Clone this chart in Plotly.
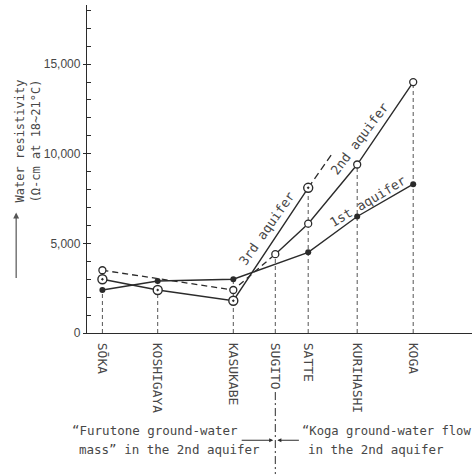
import plotly.graph_objects as go

# Stations along the route and their distance from the origin (km)
stations = ["SŌKA", "KOSHIGAYA", "KASUKABE", "SUGITO", "SATTE", "KURIHASHI", "KOGA"]
dist_km = [2.2, 10.1, 20.9, 26.9, 31.6, 38.6, 46.6]

# Water resistivity (ohm-cm at 18~21 °C) per aquifer; None = not measured
first_aquifer = [2400, 2900, 3000, None, 4500, 6500, 8300]
second_aquifer = [3500, None, 2400, 4400, 6100, 9400, 14000]
third_aquifer = [3000, 2400, 1800, None, 8100, None, None]

# Projected trend of the 3rd aquifer beyond SATTE
third_trend_km = [31.6, 35.0]
third_trend = [8100, 10000]

# Boundary between the Furutone ground-water mass and the Koga flow
boundary = "SUGITO"

y_ticks = [0, 5000, 10000, 15000]

INK = "#2b2b2b"
TXT = "#474747"
FONT = "DejaVu Sans Mono"

fig = go.Figure()


def pairs(xs, ys):
    pts = [(x, y) for x, y in zip(xs, ys) if y is not None]
    return [p[0] for p in pts], [p[1] for p in pts]


# Dashed drop lines from the highest reading at each station to the axis
drop_x, drop_y = [], []
for i, x in enumerate(dist_km):
    vals = [s[i] for s in (first_aquifer, second_aquifer, third_aquifer) if s[i] is not None]
    drop_x += [x, x, None]
    drop_y += [0, max(vals), None]
fig.add_trace(go.Scatter(x=drop_x, y=drop_y, mode="lines",
                         line=dict(color="#555555", width=1, dash="4px,3px"),
                         hoverinfo="skip"))

# 1st aquifer
x1, y1 = pairs(dist_km, first_aquifer)
fig.add_trace(go.Scatter(x=x1, y=y1, mode="lines+markers",
                         line=dict(color=INK, width=1.4),
                         marker=dict(symbol="circle", size=6, color=INK)))

# 2nd aquifer: dashed within the Furutone mass, solid in the Koga flow
b = stations.index(boundary)
xa, ya = pairs(dist_km[:b + 1], second_aquifer[:b + 1])
xb, yb = pairs(dist_km[b:], second_aquifer[b:])
fig.add_trace(go.Scatter(x=xa, y=ya, mode="lines",
                         line=dict(color=INK, width=1.3, dash="6px,4px")))
fig.add_trace(go.Scatter(x=xb, y=yb, mode="lines",
                         line=dict(color=INK, width=1.4)))
x2, y2 = pairs(dist_km, second_aquifer)
fig.add_trace(go.Scatter(x=x2, y=y2, mode="markers",
                         marker=dict(symbol="circle", size=7, color="white",
                                     line=dict(color=INK, width=1.3))))

# 3rd aquifer and its projected trend
fig.add_trace(go.Scatter(x=third_trend_km, y=third_trend, mode="lines",
                         line=dict(color=INK, width=1.3, dash="7px,4px")))
x3, y3 = pairs(dist_km, third_aquifer)
fig.add_trace(go.Scatter(x=x3, y=y3, mode="lines+markers",
                         line=dict(color=INK, width=1.4),
                         marker=dict(symbol="circle-dot", size=9, color="white",
                                     line=dict(color=INK, width=1.4))))

# Inline series labels
for text, x, y, ang in [("3rd aquifer", 25.7, 5815, -55),
                        ("2nd aquifer", 39.0, 10825, -53),
                        ("1st aquifer", 40.1, 7318, -31)]:
    fig.add_annotation(x=x, y=y, xref="x", yref="y", text=text, showarrow=False,
                       textangle=ang, font=dict(family=FONT, size=13, color=TXT))

# Y-axis title with upward arrow
fig.add_annotation(x=-0.195, y=0.587, xref="paper", yref="paper",
                   text="Water resistivity<br>(Ω-cm at 18~21°C)", align="left",
                   showarrow=False, textangle=-90,
                   font=dict(family=FONT, size=12, color=TXT))
fig.add_annotation(x=-0.184, y=0.367, xref="paper", yref="paper", text="",
                   showarrow=True, axref="pixel", ayref="pixel", ax=0, ay=67,
                   arrowhead=2, arrowsize=1, arrowwidth=1.2, arrowcolor="#555555")

# Boundary line below the axis
bx = dist_km[b]
fig.add_shape(type="line", xref="x", yref="paper", x0=bx, x1=bx, y0=-0.18, y1=-0.43,
              line=dict(color=INK, width=1, dash="8px,3px,2px,3px"))

# Region captions with arrows pointing at the boundary
fig.add_annotation(x=-0.044, y=-0.327, xref="paper", yref="paper",
                   text="“Furutone ground-water", showarrow=False, xanchor="left",
                   font=dict(family=FONT, size=12.5, color=TXT))
fig.add_annotation(x=-0.026, y=-0.385, xref="paper", yref="paper",
                   text="mass” in the 2nd aquifer", showarrow=False, xanchor="left",
                   font=dict(family=FONT, size=12.5, color=TXT))
fig.add_annotation(x=0.553, y=-0.327, xref="paper", yref="paper",
                   text="“Koga ground-water flow", showarrow=False, xanchor="left",
                   font=dict(family=FONT, size=12.2, color=TXT))
fig.add_annotation(x=0.569, y=-0.385, xref="paper", yref="paper",
                   text="in the 2nd aquifer", showarrow=False, xanchor="left",
                   font=dict(family=FONT, size=12.5, color=TXT))
fig.add_annotation(x=bx - 0.3, y=-0.327, xref="x", yref="paper", text="",
                   showarrow=True, axref="pixel", ayref="pixel", ax=-33, ay=0,
                   arrowhead=2, arrowsize=0.8, arrowwidth=1, arrowcolor=INK)
fig.add_annotation(x=bx + 0.3, y=-0.327, xref="x", yref="paper", text="",
                   showarrow=True, axref="pixel", ayref="pixel", ax=23, ay=0,
                   arrowhead=2, arrowsize=0.8, arrowwidth=1, arrowcolor=INK)

fig.update_xaxes(range=[0, 55], showline=True, linecolor=INK, linewidth=1.3,
                 tickvals=dist_km, ticktext=stations, ticks="", tickangle=90,
                 ticklabelstandoff=6, showgrid=False, zeroline=False,
                 tickfont=dict(family=FONT, size=13, color=TXT))
fig.update_yaxes(range=[0, 18300], showline=True, linecolor=INK, linewidth=1.3,
                 tickvals=y_ticks, tickformat=",d", ticks="outside", ticklen=3,
                 tickcolor=INK, showgrid=False, zeroline=False,
                 minor=dict(dtick=1000, ticks="inside", ticklen=4, tickcolor=INK),
                 tickfont=dict(family="Liberation Sans", size=12, color=TXT))

fig.update_layout(width=472, height=475, margin=dict(l=87, r=0, t=5, b=141.5),
                  plot_bgcolor="white", paper_bgcolor="white", showlegend=False)

fig.write_html("out.html")
